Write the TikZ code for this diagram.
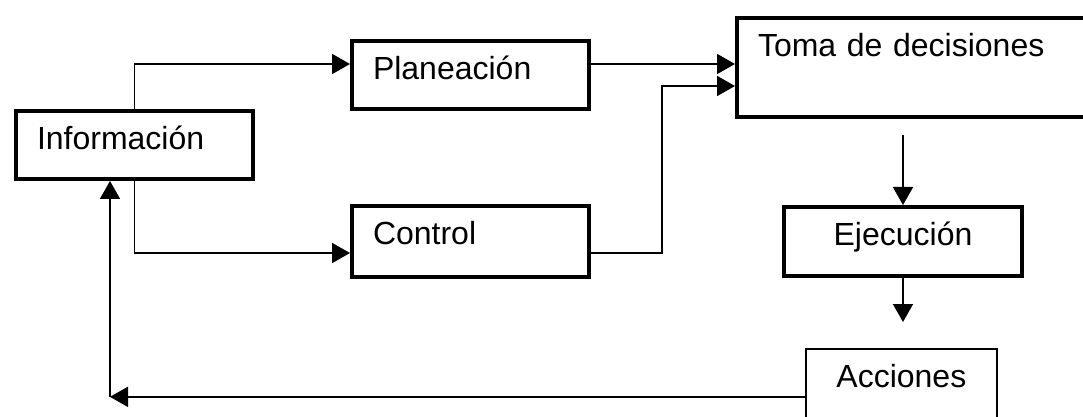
\documentclass[tikz,border=0pt]{standalone}
\usepackage{fontspec}
\setmainfont{Liberation Sans}
\usetikzlibrary{arrows.meta,positioning}

\tikzset{
  bloque/.style={draw, rectangle, line width=2pt, inner xsep=10.5pt, inner ysep=0pt,
    text width=97.5pt, align=left, text height=19.5pt, anchor=north west,
    font=\fontsize{16}{19}\selectfont},
  bloquefino/.style={bloque, line width=0.85pt},
}

\begin{document}
\begin{tikzpicture}[x=0.5pt, y=-0.5pt, line width=0.85pt, >={Triangle[length=9pt,width=10pt]}]

        \useasboundingbox (0,0) rectangle (1083,417);
        \clip (0,0) rectangle (1083,417);

        % Nodos
        \node [bloque, text depth=14.5pt] (info) at (14,109) {Información};
        \node [bloque, text depth=14.5pt] (planeacion) at (350,39) {Planeación};
        \node [bloque, text depth=16pt] (control) at (350,204) {Control};
        \node [bloque, text depth=30pt, text width=159pt] (toma) at (735,16) {Toma de decisiones};
        \node [bloque, text depth=15pt, text width=98pt, align=center] (ejecucion) at (782,205) {Ejecución};
        \node [bloquefino, text depth=28.5pt, text width=74.5pt, align=center] (acciones) at (805,348) {Acciones};

        % Conexiones
        \draw [->] (info.north) |- ([yshift=5.5pt]planeacion.west);
        \draw [->] (info.south) |- ([yshift=-5.75pt]control.west);
        \draw [->] ([yshift=5.5pt]planeacion.east) -- ([yshift=5.5pt]planeacion.east -| toma.west);
        \draw [->] ([yshift=-5.75pt]control.east) -- ++(71,0) |- ([yshift=-9.25pt]toma.west);
        \draw [->] (ejecucion.north |- toma.south) ++(0,16) -- (ejecucion.north);
        \draw [->] (ejecucion.south) -- ([yshift=13pt]acciones.north -| ejecucion.south);

        % Retroalimentacion
        \coordinate (retro) at ([xshift=-12.25pt]info.south);
        \draw [->] (acciones.west) -- (acciones.west -| retro);
        \draw [->] (acciones.west -| retro) -- (retro);

    \end{tikzpicture}
\end{document}
